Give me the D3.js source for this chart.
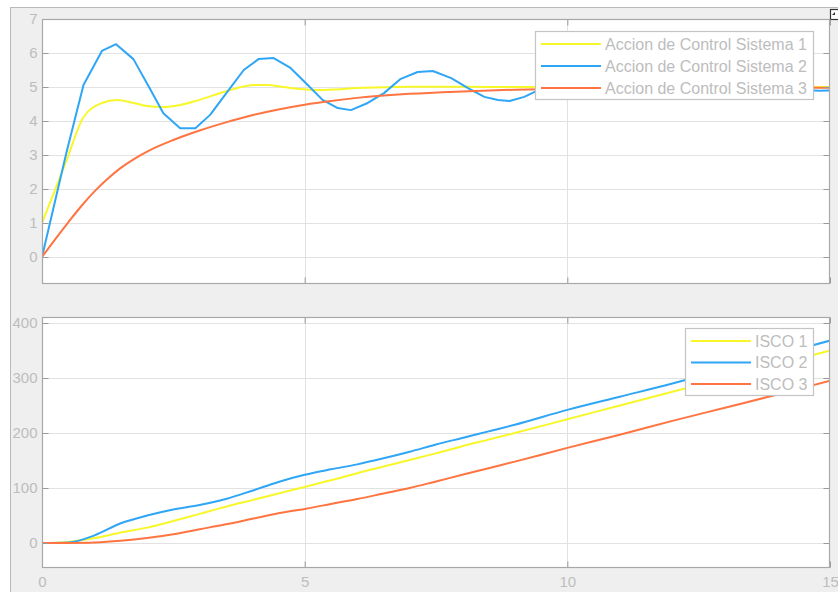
<!DOCTYPE html>
<html>
<head>
<meta charset="utf-8">
<script src="https://cdn.jsdelivr.net/npm/d3@7/dist/d3.min.js"></script>
<style>
  html, body { margin: 0; padding: 0; background: #ffffff; }
  svg { display: block; }
  text { font-family: "Liberation Sans", Arial, Helvetica, sans-serif; }
</style>
</head>
<body>
<svg id="chart" width="838" height="592"></svg>
<script>
// ---- Control action (upper plot) ----
const sys1Time = [0, 0.21, 0.47, 0.78, 1.14, 1.43, 1.75, 2.0, 2.3, 2.63, 2.95, 3.27, 3.65, 4.03, 4.29, 4.6, 4.92, 5.25, 5.6, 6.0, 6.5, 7.0, 7.8, 8.5, 9.5, 11, 13, 15];
const sys1Value = [1.0, 1.82, 2.85, 4.09, 4.53, 4.62, 4.53, 4.44, 4.41, 4.47, 4.6, 4.76, 4.94, 5.06, 5.06, 5.0, 4.94, 4.91, 4.93, 4.97, 4.99, 5.01, 5.01, 5.0, 5.0, 5.0, 5.0, 5.0];

const sys2Time = [0, 0.47, 0.79, 1.14, 1.41, 1.74, 2.05, 2.31, 2.63, 2.92, 3.2, 3.52, 3.84, 4.12, 4.41, 4.73, 5.02, 5.34, 5.63, 5.88, 6.2, 6.51, 6.83, 7.15, 7.44, 7.79, 8.11, 8.42, 8.68, 8.9, 9.18, 9.41, 9.7, 10.0, 10.3, 10.6, 10.9, 11.2, 11.5, 11.8, 12.1, 12.4, 12.7, 13.0, 13.3, 13.6, 13.9, 14.2, 14.5, 14.8, 15.0];
const sys2Value = [0, 3.1, 5.06, 6.06, 6.26, 5.82, 4.96, 4.23, 3.79, 3.79, 4.18, 4.84, 5.5, 5.82, 5.85, 5.56, 5.12, 4.62, 4.38, 4.32, 4.53, 4.82, 5.24, 5.44, 5.47, 5.26, 4.97, 4.71, 4.62, 4.59, 4.71, 4.88, 5.03, 5.14, 5.22, 5.22, 5.15, 5.04, 4.93, 4.86, 4.84, 4.88, 4.96, 5.04, 5.09, 5.08, 5.03, 4.96, 4.91, 4.89, 4.9];

const sys3Time = [0, 0.25, 0.5, 0.75, 1, 1.25, 1.5, 1.75, 2, 2.5, 3, 3.5, 4, 4.5, 5, 5.5, 6, 7, 8, 9, 10, 11, 12, 13, 14, 15];
const sys3Value = [0, 0.52, 1.02, 1.5, 1.93, 2.3, 2.62, 2.88, 3.1, 3.44, 3.72, 3.96, 4.17, 4.34, 4.48, 4.59, 4.68, 4.8, 4.87, 4.92, 4.95, 4.97, 4.98, 4.98, 4.98, 4.98];

// ---- ISCO (lower plot) ----
const iscoTime = [0, 0.5, 1, 1.5, 2, 2.5, 3, 3.5, 4, 4.5, 5, 5.5, 6, 6.5, 7, 7.5, 8, 8.5, 9, 10, 11, 12, 13, 14, 15];
const isco1 = [0, 2, 9, 19, 28, 40, 53, 66, 78, 90, 102, 114, 127, 139, 151, 163, 176, 188, 200, 225, 250, 275, 300, 325, 350];
const isco2 = [0, 1, 14, 36, 50, 61, 69, 80, 95, 111, 124, 134, 143, 154, 166, 179, 191, 203, 215, 242, 266, 290, 316, 342, 368];
const isco3 = [0, 0.2, 1, 4, 9, 16, 25, 34, 44, 54, 62, 71, 80, 90, 100, 112, 124, 136, 148, 173, 197, 222, 246, 270, 295];

// ---- labels and ticks ----
const upperLegend = ["Accion de Control Sistema 1", "Accion de Control Sistema 2", "Accion de Control Sistema 3"];
const lowerLegend = ["ISCO 1", "ISCO 2", "ISCO 3"];
const xTicks = [0, 5, 10, 15];
const upperYTicks = [0, 1, 2, 3, 4, 5, 6, 7];
const lowerYTicks = [0, 100, 200, 300, 400];
const seriesColors = ["#f7f72a", "#2fa6f5", "#ff7440"];

const svg = d3.select("#chart");
const W = 838, H = 592;

// figure background
svg.append("rect").attr("x", 0).attr("y", 0).attr("width", W).attr("height", H).attr("fill", "#ffffff");
svg.append("rect").attr("x", 10.5).attr("y", 7.5).attr("width", W).attr("height", H)
  .attr("fill", "#efefef").attr("stroke", "#b9b9b9").attr("stroke-width", 1);

// small window control glyph in the corner
svg.append("rect").attr("x", 830.5).attr("y", 9.5).attr("width", 9).attr("height", 10)
  .attr("fill", "#ffffff").attr("stroke", "#333333").attr("stroke-width", 1.2);
svg.append("path").attr("d", "M832,15 L835,12 L835,15 Z").attr("fill", "#333333");

const left = 42, right = 829;
const x = d3.scaleLinear().domain([0, 15]).range([left, 830]);

function panel(cfg) {
  const y = d3.scaleLinear().domain(cfg.yDomain).range([cfg.bottom, cfg.top]);
  const g = svg.append("g");
  const clipId = "clip-" + cfg.name;
  svg.append("clipPath").attr("id", clipId).append("rect")
    .attr("x", left).attr("y", cfg.top).attr("width", right - left).attr("height", cfg.bottom - cfg.top);

  g.append("rect").attr("x", left).attr("y", cfg.top).attr("width", right - left).attr("height", cfg.bottom - cfg.top)
    .attr("fill", "#ffffff");

  // grid
  const grid = g.append("g").attr("stroke", "#e2e2e2").attr("stroke-width", 1);
  grid.selectAll("line.h").data(cfg.yTicks).join("line")
    .attr("x1", left).attr("x2", right)
    .attr("y1", d => Math.round(y(d)) + 0.5).attr("y2", d => Math.round(y(d)) + 0.5);
  grid.selectAll("line.v").data(xTicks.filter(d => d > 0 && d < 15)).join("line")
    .attr("y1", cfg.top).attr("y2", cfg.bottom)
    .attr("x1", d => Math.round(x(d)) + 0.5).attr("x2", d => Math.round(x(d)) + 0.5);

  // series
  const lines = g.append("g").attr("clip-path", `url(#${clipId})`);
  cfg.series.forEach((s, i) => {
    const line = d3.line().x((d, k) => x(s.t[k])).y(d => y(d)).curve(s.curve);
    lines.append("path").datum(s.v).attr("d", line)
      .attr("fill", "none").attr("stroke", seriesColors[i]).attr("stroke-width", 2)
      .attr("stroke-linejoin", "round");
  });

  // axes with inward ticks
  const axisColor = "#a8a8a8";
  const yAxisL = d3.axisLeft(y).tickValues(cfg.yTicks).tickSize(-6).tickPadding(5).tickFormat(d3.format("d"));
  const yAxisR = d3.axisRight(y).tickValues(cfg.yTicks).tickSize(-6).tickFormat("");
  const xAxisB = d3.axisBottom(x).tickValues(xTicks).tickSize(-6).tickPadding(9).tickFormat(cfg.showX ? d3.format("d") : "");
  const xAxisT = d3.axisTop(x).tickValues(xTicks).tickSize(-6).tickFormat("");

  const ax = [
    g.append("g").attr("transform", `translate(${left + 0.5},0)`).call(yAxisL),
    g.append("g").attr("transform", `translate(${right + 0.5},0)`).call(yAxisR),
    g.append("g").attr("transform", `translate(0,${cfg.bottom + 0.5})`).call(xAxisB),
    g.append("g").attr("transform", `translate(0,${cfg.top + 0.5})`).call(xAxisT)
  ];
  ax.forEach(a => {
    a.select(".domain").remove();
    a.selectAll(".tick line").attr("stroke", "#999999");
    a.selectAll("text").attr("fill", "#bdbdbd").attr("font-size", 15)
      .attr("font-family", "'Liberation Sans', Arial, sans-serif");
  });

  // frame
  g.append("rect").attr("x", left + 0.5).attr("y", cfg.top + 0.5)
    .attr("width", right - left).attr("height", cfg.bottom - cfg.top)
    .attr("fill", "none").attr("stroke", axisColor).attr("stroke-width", 1.2);

  // legend
  const L = cfg.legend;
  const lg = g.append("g");
  lg.append("rect").attr("x", L.x + 0.5).attr("y", L.y + 0.5).attr("width", L.w).attr("height", L.h)
    .attr("fill", "#ffffff").attr("stroke", "#c4c4c4").attr("stroke-width", 1.2);
  cfg.legendLabels.forEach((label, i) => {
    const yy = L.y + L.first + i * L.step;
    lg.append("line").attr("x1", L.x + 6).attr("x2", L.x + 66).attr("y1", yy).attr("y2", yy)
      .attr("stroke", seriesColors[i]).attr("stroke-width", 2);
    lg.append("text").attr("x", L.x + 70).attr("y", yy + 5.5).text(label)
      .attr("fill", "#bdbdbd").attr("font-size", 16);
  });
}

panel({
  name: "control", top: 19, bottom: 283, yDomain: [-0.765, 7], yTicks: upperYTicks, showX: false,
  series: [
    { t: sys1Time, v: sys1Value, curve: d3.curveMonotoneX },
    { t: sys2Time, v: sys2Value, curve: d3.curveLinear },
    { t: sys3Time, v: sys3Value, curve: d3.curveMonotoneX }
  ],
  legendLabels: upperLegend,
  legend: { x: 535, y: 31, w: 278, h: 68, first: 13, step: 22 }
});

panel({
  name: "isco", top: 317, bottom: 567, yDomain: [-43.6, 410.9], yTicks: lowerYTicks, showX: true,
  series: [
    { t: iscoTime, v: isco1, curve: d3.curveMonotoneX },
    { t: iscoTime, v: isco2, curve: d3.curveMonotoneX },
    { t: iscoTime, v: isco3, curve: d3.curveMonotoneX }
  ],
  legendLabels: lowerLegend,
  legend: { x: 685, y: 328, w: 128, h: 67, first: 13, step: 21.5 }
});
</script>
</body>
</html>
